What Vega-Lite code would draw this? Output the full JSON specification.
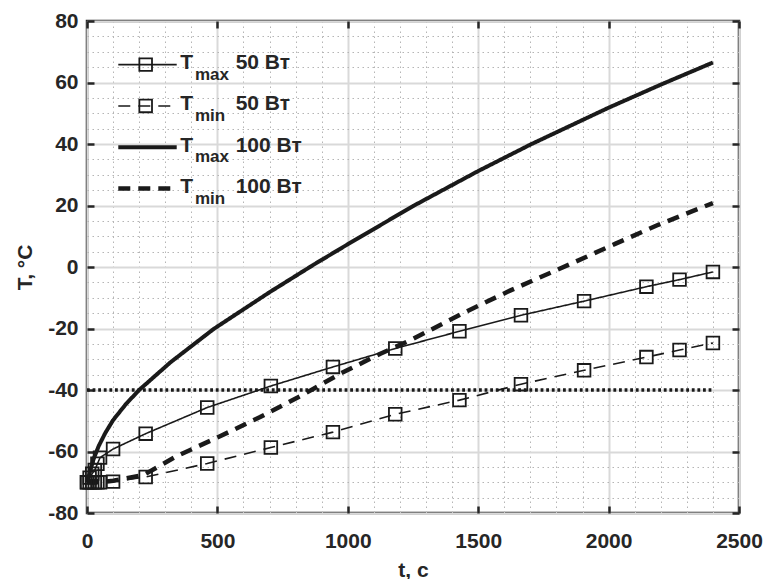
{
 "$schema": "https://vega.github.io/schema/vega-lite/v6.json",
 "width": 652,
 "height": 492,
 "autosize": {"type": "none"},
 "padding": {"left": 87, "top": 21, "right": 27, "bottom": 66},
 "background": "white",
 "config": {
  "view": {"stroke": "#262626", "strokeWidth": 2.5},
  "font": "Liberation Sans",
  "axis": {
   "labelFont": "Liberation Sans", "labelFontWeight": "bold", "labelFontSize": 21, "labelColor": "#262626",
   "titleFont": "Liberation Sans", "titleFontWeight": "bold", "titleFontSize": 21, "titleColor": "#262626",
   "tickColor": "#262626", "tickWidth": 2.5, "gridColor": "#d9d9d9", "gridWidth": 2,
   "labelFlush": false, "labelOverlap": false
  }
 },
 "datasets": {
  "curves": [
   {"series": "Tmax 50", "t": 0, "T": -70}, {"series": "Tmax 50", "t": 10, "T": -68.5}, {"series": "Tmax 50", "t": 20, "T": -67.2},
   {"series": "Tmax 50", "t": 30, "T": -66}, {"series": "Tmax 50", "t": 40, "T": -64}, {"series": "Tmax 50", "t": 50, "T": -62},
   {"series": "Tmax 50", "t": 100, "T": -59.2}, {"series": "Tmax 50", "t": 225, "T": -54.2}, {"series": "Tmax 50", "t": 461, "T": -45.7},
   {"series": "Tmax 50", "t": 705, "T": -38.7}, {"series": "Tmax 50", "t": 943, "T": -32.5}, {"series": "Tmax 50", "t": 1182, "T": -26.5},
   {"series": "Tmax 50", "t": 1428, "T": -20.9}, {"series": "Tmax 50", "t": 1664, "T": -15.7}, {"series": "Tmax 50", "t": 1906, "T": -11.1},
   {"series": "Tmax 50", "t": 2145, "T": -6.4}, {"series": "Tmax 50", "t": 2272, "T": -4.1}, {"series": "Tmax 50", "t": 2400, "T": -1.6},
   {"series": "Tmin 50", "t": 0, "T": -70}, {"series": "Tmin 50", "t": 10, "T": -70}, {"series": "Tmin 50", "t": 20, "T": -70},
   {"series": "Tmin 50", "t": 30, "T": -70}, {"series": "Tmin 50", "t": 40, "T": -70}, {"series": "Tmin 50", "t": 50, "T": -70},
   {"series": "Tmin 50", "t": 100, "T": -69.8}, {"series": "Tmin 50", "t": 225, "T": -68.3}, {"series": "Tmin 50", "t": 461, "T": -63.9},
   {"series": "Tmin 50", "t": 705, "T": -58.7}, {"series": "Tmin 50", "t": 943, "T": -53.7}, {"series": "Tmin 50", "t": 1182, "T": -47.9},
   {"series": "Tmin 50", "t": 1428, "T": -43.3}, {"series": "Tmin 50", "t": 1664, "T": -38.1}, {"series": "Tmin 50", "t": 1906, "T": -33.6},
   {"series": "Tmin 50", "t": 2145, "T": -29.3}, {"series": "Tmin 50", "t": 2272, "T": -27}, {"series": "Tmin 50", "t": 2400, "T": -24.7},
   {"series": "Tmax 100", "t": 0, "T": -70}, {"series": "Tmax 100", "t": 10, "T": -67}, {"series": "Tmax 100", "t": 25, "T": -62.5},
   {"series": "Tmax 100", "t": 45, "T": -58.2}, {"series": "Tmax 100", "t": 70, "T": -54}, {"series": "Tmax 100", "t": 100, "T": -49.8},
   {"series": "Tmax 100", "t": 150, "T": -44.5}, {"series": "Tmax 100", "t": 200, "T": -40}, {"series": "Tmax 100", "t": 320, "T": -31},
   {"series": "Tmax 100", "t": 485, "T": -20.2}, {"series": "Tmax 100", "t": 700, "T": -8.2}, {"series": "Tmax 100", "t": 870, "T": 0.8},
   {"series": "Tmax 100", "t": 1000, "T": 7.4}, {"series": "Tmax 100", "t": 1250, "T": 19.8}, {"series": "Tmax 100", "t": 1500, "T": 31.2},
   {"series": "Tmax 100", "t": 1700, "T": 39.8}, {"series": "Tmax 100", "t": 2000, "T": 51.8}, {"series": "Tmax 100", "t": 2200, "T": 59.3},
   {"series": "Tmax 100", "t": 2400, "T": 66.5},
   {"series": "Tmin 100", "t": 0, "T": -70}, {"series": "Tmin 100", "t": 50, "T": -70}, {"series": "Tmin 100", "t": 100, "T": -69.5},
   {"series": "Tmin 100", "t": 216, "T": -67.7}, {"series": "Tmin 100", "t": 344, "T": -61.5}, {"series": "Tmin 100", "t": 504, "T": -55.3},
   {"series": "Tmin 100", "t": 664, "T": -48.8}, {"series": "Tmin 100", "t": 818, "T": -42}, {"series": "Tmin 100", "t": 971, "T": -34.7},
   {"series": "Tmin 100", "t": 1125, "T": -28.2}, {"series": "Tmin 100", "t": 1250, "T": -23.4}, {"series": "Tmin 100", "t": 1452, "T": -14.6},
   {"series": "Tmin 100", "t": 1624, "T": -7.6}, {"series": "Tmin 100", "t": 1870, "T": 1.6}, {"series": "Tmin 100", "t": 2027, "T": 7.6},
   {"series": "Tmin 100", "t": 2193, "T": 13.8}, {"series": "Tmin 100", "t": 2400, "T": 20.8},
   {"series": "limit", "t": 0, "T": -40}, {"series": "limit", "t": 2400, "T": -40}
  ],
  "legend": [
   {"series": "Tmax 50", "main": "T", "sub": "max", "rest": "50 Вт"},
   {"series": "Tmin 50", "main": "T", "sub": "min", "rest": "50 Вт"},
   {"series": "Tmax 100", "main": "T", "sub": "max", "rest": "100 Вт"},
   {"series": "Tmin 100", "main": "T", "sub": "min", "rest": "100 Вт"}
  ]
 },
 "layer": [
  {
   "data": {"name": "curves"},
   "layer": [
    {
     "transform": [{"filter": "datum.series != 'limit'"}],
     "mark": {"type": "line", "color": "#1a1a1a", "strokeCap": "butt", "strokeJoin": "round"},
     "encoding": {
      "x": {"field": "t", "type": "quantitative", "scale": {"domain": [0, 2500], "nice": false, "zero": false},
       "axis": {"orient": "bottom", "values": [100, 200, 300, 400, 600, 700, 800, 900, 1100, 1200, 1300, 1400, 1600, 1700, 1800, 1900, 2100, 2200, 2300, 2400],
        "grid": true, "gridDash": [1.5, 3.5], "gridColor": "#b5b5b5", "gridWidth": 1, "labels": false, "ticks": false, "domain": false, "title": null}},
      "y": {"field": "T", "type": "quantitative", "scale": {"domain": [-80, 80], "nice": false, "zero": false},
       "axis": {"orient": "left", "values": [-75, -70, -65, -55, -50, -45, -35, -30, -25, -15, -10, -5, 5, 10, 15, 25, 30, 35, 45, 50, 55, 65, 70, 75],
        "grid": true, "gridDash": [1.5, 3.5], "gridColor": "#b5b5b5", "gridWidth": 1, "labels": false, "ticks": false, "domain": false, "title": null}},
      "detail": {"field": "series", "type": "nominal"},
      "strokeDash": {"field": "series", "type": "nominal", "scale": {"domain": ["Tmax 50", "Tmin 50", "Tmax 100", "Tmin 100"], "range": [[1, 0], [12, 8], [1, 0], [12, 8]]}, "legend": null},
      "strokeWidth": {"field": "series", "type": "ordinal", "scale": {"type": "ordinal", "domain": ["Tmax 50", "Tmin 50", "Tmax 100", "Tmin 100"], "range": [1.6, 1.6, 4, 4.5]}, "legend": null}
     }
    },
    {
     "transform": [{"filter": {"field": "series", "oneOf": ["Tmax 50", "Tmin 50"]}}],
     "mark": {"type": "point", "shape": "square", "filled": false, "size": 160, "stroke": "#1a1a1a", "strokeWidth": 1.8, "opacity": 1},
     "encoding": {
      "x": {"field": "t", "type": "quantitative", "scale": {"domain": [0, 2500], "nice": false, "zero": false},
       "axis": {"orient": "bottom", "values": [0, 500, 1000, 1500, 2000, 2500], "labelExpr": "'' + datum.value", "grid": true, "ticks": true, "tickSize": -7, "labelPadding": 24, "domain": false, "title": "t, c", "titlePadding": 8}},
      "y": {"field": "T", "type": "quantitative", "scale": {"domain": [-80, 80], "nice": false, "zero": false},
       "axis": {"orient": "left", "values": [-80, -60, -40, -20, 0, 20, 40, 60, 80], "labelExpr": "'' + datum.value", "grid": true, "ticks": true, "tickSize": -7, "labelPadding": 16, "domain": false, "title": "T, °C", "titlePadding": 12}}
     }
    },
    {
     "transform": [{"filter": "datum.series == 'limit'"}],
     "mark": {"type": "line", "color": "#1a1a1a", "strokeDash": [2.8, 2.8], "strokeWidth": 3.3, "strokeCap": "butt"},
     "encoding": {
      "x": {"field": "t", "type": "quantitative", "scale": {"domain": [0, 2500], "nice": false, "zero": false},
       "axis": {"orient": "top", "values": [0, 500, 1000, 1500, 2000, 2500], "grid": false, "ticks": true, "tickSize": -7, "labels": false, "domain": false, "title": null}},
      "y": {"field": "T", "type": "quantitative", "scale": {"domain": [-80, 80], "nice": false, "zero": false},
       "axis": {"orient": "right", "values": [-80, -60, -40, -20, 0, 20, 40, 60, 80], "grid": false, "ticks": true, "tickSize": -7, "labels": false, "domain": false, "title": null}}
     }
    }
   ],
   "resolve": {"axis": {"x": "independent", "y": "independent"}}
  },
  {
   "data": {"name": "legend"},
   "layer": [
    {
     "mark": {"type": "rule", "color": "#1a1a1a", "strokeCap": "butt"},
     "encoding": {
      "x": {"datum": 120, "type": "quantitative", "scale": {"domain": [0, 2500], "nice": false, "zero": false}, "axis": null},
      "x2": {"datum": 344},
      "y": {"field": "series", "type": "nominal", "scale": {"type": "point", "domain": ["Tmax 50", "Tmin 50", "Tmax 100", "Tmin 100"], "range": [43.6, 167.6], "padding": 0}, "axis": null},
      "strokeDash": {"field": "series", "type": "nominal", "scale": {"domain": ["Tmax 50", "Tmin 50", "Tmax 100", "Tmin 100"], "range": [[1, 0], [12, 8], [1, 0], [12, 8]]}, "legend": null},
      "strokeWidth": {"field": "series", "type": "ordinal", "scale": {"type": "ordinal", "domain": ["Tmax 50", "Tmin 50", "Tmax 100", "Tmin 100"], "range": [1.6, 1.6, 4, 4.5]}, "legend": null}
     }
    },
    {
     "transform": [{"filter": {"field": "series", "oneOf": ["Tmax 50", "Tmin 50"]}}],
     "mark": {"type": "point", "shape": "square", "filled": false, "size": 160, "stroke": "#1a1a1a", "strokeWidth": 1.8, "opacity": 1},
     "encoding": {
      "x": {"datum": 225, "type": "quantitative", "axis": null},
      "y": {"field": "series", "type": "nominal", "axis": null}
     }
    },
    {
     "mark": {"type": "text", "align": "left", "baseline": "alphabetic", "dy": 4.5, "fontSize": 21, "fontWeight": "bold", "color": "#262626", "font": "Liberation Sans"},
     "encoding": {
      "x": {"datum": 358, "type": "quantitative", "axis": null},
      "y": {"field": "series", "type": "nominal", "axis": null},
      "text": {"field": "main"}
     }
    },
    {
     "mark": {"type": "text", "align": "left", "baseline": "alphabetic", "dy": 15, "fontSize": 17, "fontWeight": "bold", "color": "#262626", "font": "Liberation Sans"},
     "encoding": {
      "x": {"datum": 414, "type": "quantitative", "axis": null},
      "y": {"field": "series", "type": "nominal", "axis": null},
      "text": {"field": "sub"}
     }
    },
    {
     "mark": {"type": "text", "align": "left", "baseline": "alphabetic", "dy": 4.5, "fontSize": 21, "fontWeight": "bold", "color": "#262626", "font": "Liberation Sans"},
     "encoding": {
      "x": {"datum": 570, "type": "quantitative", "axis": null},
      "y": {"field": "series", "type": "nominal", "axis": null},
      "text": {"field": "rest"}
     }
    }
   ]
  }
 ],
 "resolve": {"scale": {"y": "independent"}, "axis": {"x": "independent", "y": "independent"}}
}
